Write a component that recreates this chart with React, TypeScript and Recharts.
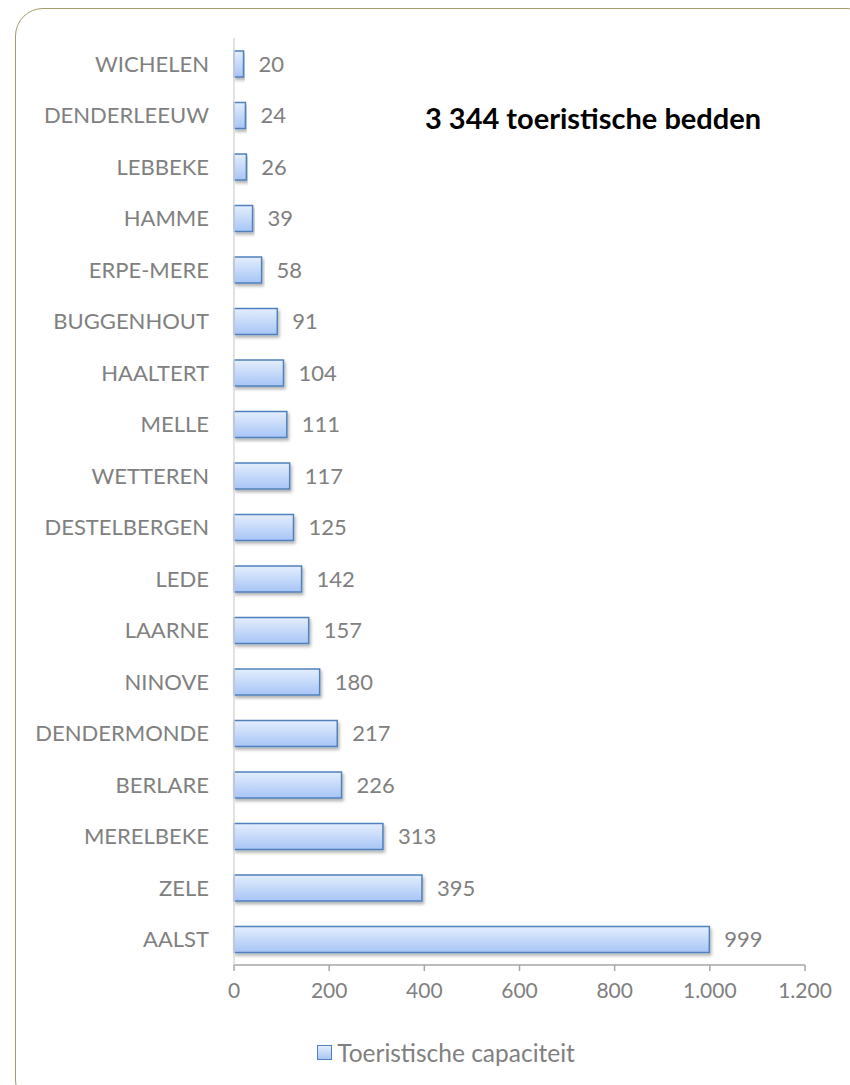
import { BarChart, Bar, XAxis, YAxis, LabelList } from "recharts"

const gemeenten = [
  "WICHELEN", "DENDERLEEUW", "LEBBEKE", "HAMME", "ERPE-MERE", "BUGGENHOUT",
  "HAALTERT", "MELLE", "WETTEREN", "DESTELBERGEN", "LEDE", "LAARNE",
  "NINOVE", "DENDERMONDE", "BERLARE", "MERELBEKE", "ZELE", "AALST",
]
const capaciteit = [20, 24, 26, 39, 58, 91, 104, 111, 117, 125, 142, 157, 180, 217, 226, 313, 395, 999]
const xTicks = [0, 200, 400, 600, 800, 1000, 1200]

const data = gemeenten.map((naam, i) => ({ naam, waarde: capaciteit[i] }))

const font = "Lato, 'Open Sans', sans-serif"
const grey = "#808080"

const fmt = (v: number) => v.toLocaleString("nl-BE").replace(/\s/g, ".")

export default function App() {
  return (
    <div style={{ position: "absolute", left: 0, top: 0, width: 850, height: 1085, background: "#fff", overflow: "hidden" }}>
      <div
        style={{
          position: "absolute", left: 15, top: 8, width: 860, height: 1100,
          border: "1.5px solid #a49a6a", borderRadius: 28, boxSizing: "border-box",
        }}
      />
      <div
        style={{
          position: "absolute", left: 425, top: 100, fontFamily: font, fontWeight: 700,
          fontSize: 29, color: "#000", whiteSpace: "nowrap",
        }}
      >
        3 344 toeristische bedden
      </div>
      <BarChart
        width={850}
        height={1085}
        data={data}
        layout="vertical"
        margin={{ top: 38, right: 45, bottom: 90, left: 0 }}
        barSize={26}
        style={{ position: "absolute", left: 0, top: 0 }}
      >
        <defs>
          <linearGradient id="barFill" x1="0" y1="0" x2="0" y2="1">
            <stop offset="0%" stopColor="#e4eefd" />
            <stop offset="100%" stopColor="#a7c5f6" />
          </linearGradient>
          <filter id="barShadow" x="-5%" y="-20%" width="115%" height="160%">
            <feDropShadow dx="1.5" dy="2.5" stdDeviation="1.5" floodColor="#000" floodOpacity="0.3" />
          </filter>
        </defs>
        <XAxis
          type="number"
          domain={[0, 1200]}
          ticks={xTicks}
          tickFormatter={fmt}
          axisLine={{ stroke: "#a6a6a6", strokeWidth: 1.5 }}
          tickLine={{ stroke: "#a6a6a6", strokeWidth: 1.5 }}
          tickSize={6}
          tickMargin={12}
          tick={{ fill: grey, fontSize: 21, fontFamily: font }}
          interval={0}
        />
        <YAxis
          type="category"
          dataKey="naam"
          width={234}
          axisLine={{ stroke: "#d9d9d9", strokeWidth: 1.5 }}
          tickLine={false}
          tickMargin={19}
          tick={{ fill: grey, fontSize: 22, fontFamily: font }}
          interval={0}
        />
        <Bar
          dataKey="waarde"
          fill="url(#barFill)"
          stroke="#4f81bd"
          strokeWidth={1.5}
          filter="url(#barShadow)"
          isAnimationActive={false}
        >
          <LabelList dataKey="waarde" position="right" offset={15} fill={grey} fontSize={22} fontFamily={font} formatter={(v: any) => fmt(Number(v))} />
        </Bar>
      </BarChart>
      <div
        style={{
          position: "absolute", left: 21, top: 1038, width: 850, display: "flex", alignItems: "center",
          justifyContent: "center", fontFamily: font, fontSize: 24.5, color: grey,
        }}
      >
        <span
          style={{
            width: 15, height: 15, marginRight: 5, border: "1.5px solid #4f81bd", boxSizing: "border-box",
            background: "linear-gradient(#e2ecfc, #a9c6f5)", display: "inline-block",
          }}
        />
        Toeristische capaciteit
      </div>
    </div>
  )
}
